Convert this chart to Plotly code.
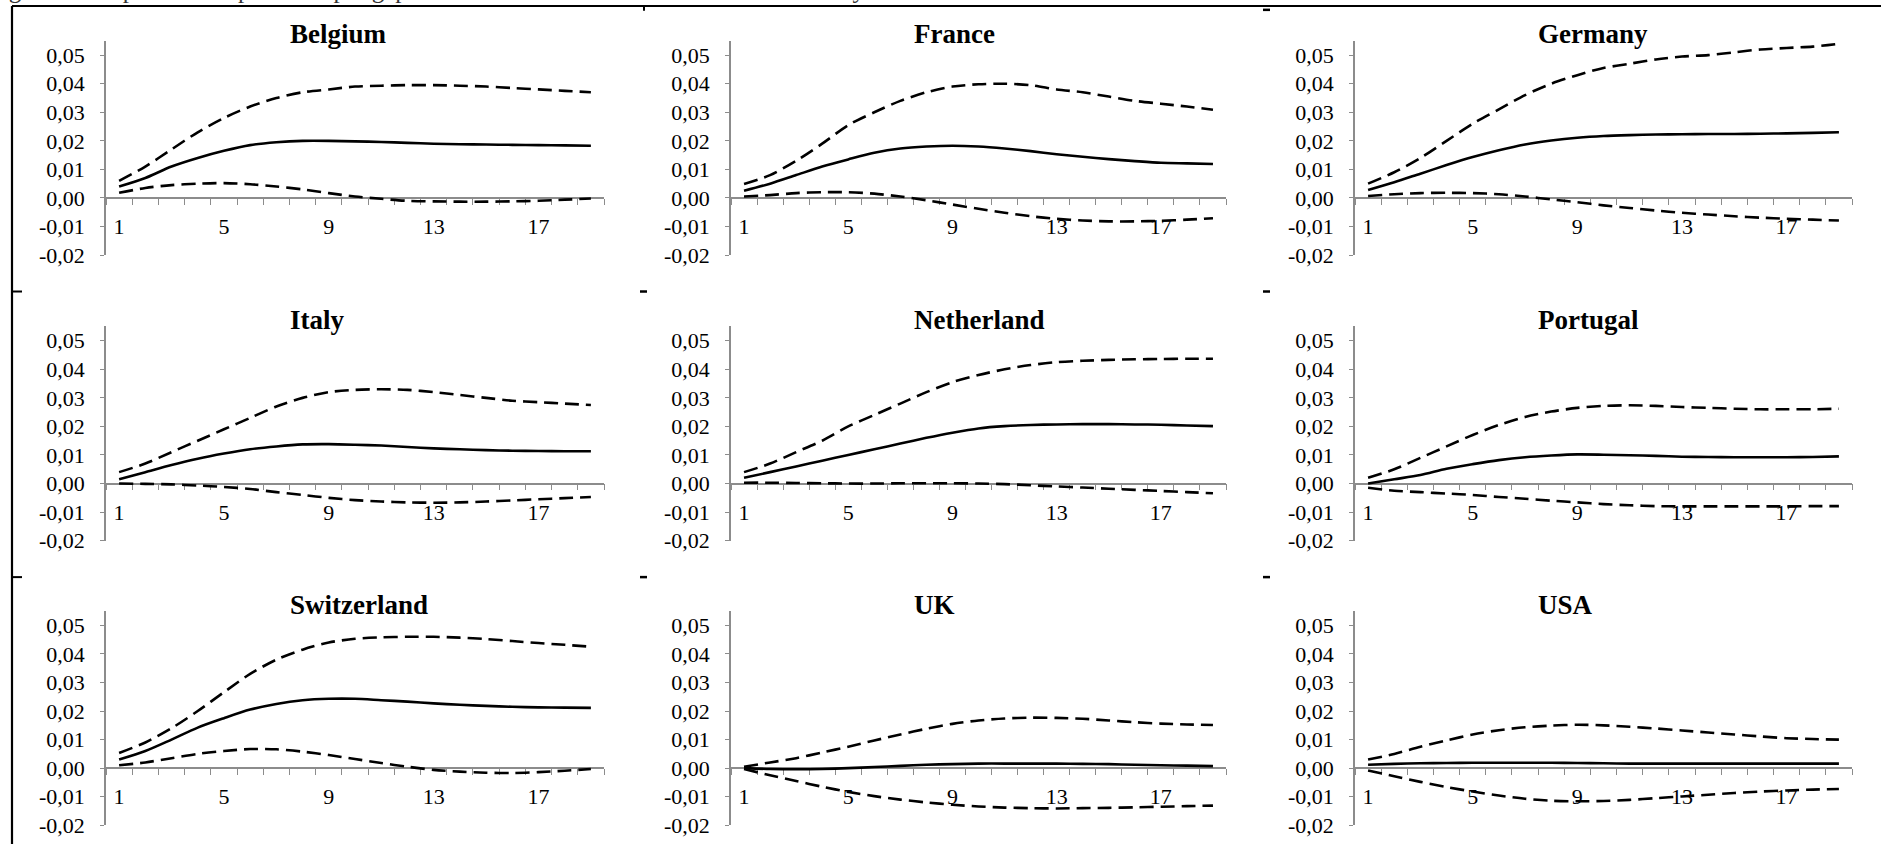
import plotly.graph_objects as go

# ---------------- data ----------------
periods = list(range(1, 20))
countries = ["Belgium", "France", "Germany", "Italy", "Netherland", "Portugal",
             "Switzerland", "UK", "USA"]

belgium_upper = [0.006, 0.011, 0.017, 0.023, 0.028, 0.032, 0.035, 0.037, 0.038, 0.039,
                 0.0393, 0.0395, 0.0395, 0.0393, 0.039, 0.0385, 0.038, 0.0375, 0.037]
belgium_mid = [0.004, 0.007, 0.011, 0.014, 0.0165, 0.0185, 0.0195, 0.020, 0.020, 0.0198,
               0.0196, 0.0193, 0.019, 0.0188, 0.0187, 0.0186, 0.0185, 0.0184, 0.0183]
belgium_lower = [0.0018, 0.0035, 0.0045, 0.005, 0.0052, 0.0048, 0.004, 0.003, 0.0017, 0.0005,
                 -0.0003, -0.001, -0.0012, -0.0013, -0.0013, -0.0012, -0.001, -0.0006, -0.0002]

france_upper = [0.0049, 0.008, 0.013, 0.019, 0.0255, 0.030, 0.034, 0.037, 0.039, 0.0398,
                0.040, 0.0395, 0.038, 0.037, 0.0355, 0.034, 0.033, 0.032, 0.0309]
france_mid = [0.0025, 0.005, 0.008, 0.011, 0.0135, 0.0158, 0.0173, 0.018, 0.0183, 0.018,
              0.0173, 0.0164, 0.0153, 0.0144, 0.0136, 0.0129, 0.0123, 0.0121, 0.0119]
france_lower = [0.0005, 0.001, 0.0017, 0.002, 0.002, 0.0015, 0.0005, -0.0008, -0.0023, -0.0038,
                -0.0052, -0.0064, -0.0073, -0.0079, -0.0082, -0.0082, -0.008, -0.0076, -0.0071]

germany_upper = [0.005, 0.009, 0.014, 0.020, 0.026, 0.031, 0.036, 0.040, 0.043, 0.0455,
                 0.047, 0.0485, 0.0495, 0.050, 0.051, 0.052, 0.0525, 0.053, 0.054]
germany_mid = [0.0028, 0.0055, 0.0085, 0.0115, 0.0143, 0.0167, 0.0187, 0.0201, 0.0211, 0.0217,
               0.022, 0.0222, 0.0223, 0.0224, 0.0224, 0.0225, 0.0226, 0.0228, 0.023]
germany_lower = [0.0007, 0.0013, 0.0017, 0.0018, 0.0017, 0.0013, 0.0005, -0.0005, -0.0015, -0.0026,
                 -0.0035, -0.0044, -0.0052, -0.0058, -0.0064, -0.0069, -0.0073, -0.0076, -0.0079]

italy_upper = [0.004, 0.007, 0.011, 0.015, 0.019, 0.023, 0.027, 0.030, 0.032, 0.0328,
               0.033, 0.0328, 0.032, 0.031, 0.030, 0.029, 0.0285, 0.028, 0.0275]
italy_mid = [0.0015, 0.004, 0.0065, 0.0087, 0.0105, 0.012, 0.013, 0.0137, 0.0138, 0.0136,
             0.0133, 0.0128, 0.0123, 0.012, 0.0117, 0.0115, 0.0114, 0.0113, 0.0113]
italy_lower = [0.0, -0.0001, -0.0003, -0.0007, -0.0012, -0.0019, -0.003, -0.004, -0.005, -0.0058,
               -0.0063, -0.0066, -0.0067, -0.0066, -0.0063, -0.0059, -0.0055, -0.0051, -0.0047]

netherland_upper = [0.004, 0.007, 0.011, 0.015, 0.020, 0.024, 0.028, 0.032, 0.0355, 0.038,
                    0.040, 0.0415, 0.0425, 0.043, 0.0433, 0.0435, 0.0436, 0.0437, 0.0437]
netherland_mid = [0.002, 0.004, 0.006, 0.008, 0.010, 0.012, 0.014, 0.016, 0.0178, 0.0193,
                  0.0201, 0.0205, 0.0207, 0.0208, 0.0208, 0.0207, 0.0206, 0.0203, 0.0201]
netherland_lower = [0.0003, 0.0003, 0.0002, 0.0001, 0.0, 0.0, 0.0001, 0.0001, 0.0001, 0.0,
                    -0.0002, -0.0006, -0.001, -0.0014, -0.0018, -0.0022, -0.0026, -0.003, -0.0034]

portugal_upper = [0.002, 0.005, 0.009, 0.013, 0.017, 0.0205, 0.0233, 0.0252, 0.0265, 0.0272,
                  0.0274, 0.0272, 0.0268, 0.0265, 0.0262, 0.026, 0.026, 0.026, 0.0262]
portugal_mid = [0.0, 0.0015, 0.003, 0.0052, 0.0068, 0.0082, 0.0092, 0.0098, 0.0102, 0.0101,
                0.0099, 0.0097, 0.0094, 0.0093, 0.0092, 0.0092, 0.0092, 0.0093, 0.0095]
portugal_lower = [-0.0015, -0.0025, -0.003, -0.0035, -0.004, -0.0047, -0.0053, -0.006, -0.0066, -0.0072,
                  -0.0076, -0.0079, -0.008, -0.008, -0.008, -0.008, -0.008, -0.0079, -0.0079]

switzerland_upper = [0.0053, 0.009, 0.014, 0.020, 0.0266, 0.033, 0.038, 0.0415, 0.044, 0.0453,
                     0.0458, 0.046, 0.046, 0.0457, 0.0452, 0.0445, 0.0438, 0.0432, 0.0425]
switzerland_mid = [0.003, 0.006, 0.010, 0.0142, 0.0175, 0.0205, 0.0225, 0.0238, 0.0243, 0.0243,
                   0.0238, 0.0233, 0.0227, 0.0222, 0.0218, 0.0215, 0.0213, 0.0212, 0.0211]
switzerland_lower = [0.001, 0.002, 0.0035, 0.005, 0.006, 0.0067, 0.0066, 0.0058, 0.0046, 0.0032,
                     0.0018, 0.0005, -0.0006, -0.0012, -0.0016, -0.0017, -0.0014, -0.0009, -0.0003]

uk_upper = [0.0005, 0.002, 0.0035, 0.0055, 0.0075, 0.0097, 0.0118, 0.0138, 0.0155, 0.0167,
            0.0174, 0.0177, 0.0176, 0.0173, 0.0167, 0.0161, 0.0156, 0.0153, 0.0151]
uk_mid = [0.0, -0.0003, -0.0004, -0.0003, 0.0, 0.0004, 0.0008, 0.0012, 0.0014, 0.0016,
          0.0016, 0.0016, 0.0016, 0.0015, 0.0014, 0.0012, 0.001, 0.0009, 0.0007]
uk_lower = [-0.0003, -0.0025, -0.0045, -0.0065, -0.0083, -0.0098, -0.011, -0.012, -0.0128, -0.0134,
            -0.0138, -0.014, -0.0141, -0.014, -0.0139, -0.0137, -0.0135, -0.0133, -0.0131]

usa_upper = [0.003, 0.005, 0.0075, 0.0097, 0.0118, 0.0133, 0.0143, 0.0149, 0.0152, 0.015,
             0.0145, 0.0139, 0.0132, 0.0125, 0.0118, 0.0111, 0.0105, 0.0102, 0.010]
usa_mid = [0.0012, 0.0015, 0.0017, 0.0018, 0.0019, 0.0019, 0.0019, 0.0019, 0.0018, 0.0017,
           0.0016, 0.0016, 0.0016, 0.0016, 0.0016, 0.0016, 0.0016, 0.0016, 0.0016]
usa_lower = [-0.0008, -0.0028, -0.0048, -0.0066, -0.0082, -0.0096, -0.0107, -0.0114, -0.0116, -0.0115,
             -0.0111, -0.0105, -0.0099, -0.0093, -0.0087, -0.0082, -0.0078, -0.0075, -0.0073]

uppers = [belgium_upper, france_upper, germany_upper, italy_upper, netherland_upper,
          portugal_upper, switzerland_upper, uk_upper, usa_upper]
mids = [belgium_mid, france_mid, germany_mid, italy_mid, netherland_mid,
        portugal_mid, switzerland_mid, uk_mid, usa_mid]
lowers = [belgium_lower, france_lower, germany_lower, italy_lower, netherland_lower,
          portugal_lower, switzerland_lower, uk_lower, usa_lower]

y_tick_vals = [-0.02, -0.01, 0.0, 0.01, 0.02, 0.03, 0.04, 0.05]
y_tick_text = ["-0,02", "-0,01", "0,00", "0,01", "0,02", "0,03", "0,04", "0,05"]
x_tick_vals = [1, 5, 9, 13, 17]
x_tick_text = ["1", "5", "9", "13", "17"]

caption = "Figure 4: Responses of Spain's output gap to one SD shock in real GDP of each country"

# ---------------- layout geometry (pixels) ----------------
W, H = 1881, 857
Y_MIN, Y_MAX = -0.02, 0.055
col_px = [(106, 604), (731, 1226), (1355, 1852)]
row_bottom_px = [259, 549, 838]
px_per_unit = 203 / 0.07
row_top_px = [b - (Y_MAX - Y_MIN) * px_per_unit for b in row_bottom_px]
title_x_px = [288, 912, 1536]
title_dy = 21  # title centre above the 0,05 line
stub_y_px = [296, 586]

FONT = "Liberation Serif"
AXIS_COL = "#8c8c8c"

fig = go.Figure()
layout = dict(
    width=W, height=H, margin=dict(l=0, r=0, t=0, b=0),
    paper_bgcolor="white", plot_bgcolor="white", showlegend=False,
    font=dict(family=FONT, color="black", size=22),
)
annotations = []

for i, name in enumerate(countries):
    r, c = divmod(i, 3)
    k = i + 1
    xa = "x" if k == 1 else f"x{k}"
    ya = "y" if k == 1 else f"y{k}"
    x0, x1 = col_px[c]
    yb, yt = row_bottom_px[r], row_top_px[r]
    xdom = [x0 / W, x1 / W]
    ydom = [1 - yb / H, 1 - yt / H]
    zero_pos = ydom[0] + (0 - Y_MIN) / (Y_MAX - Y_MIN) * (ydom[1] - ydom[0])

    for series, dash in ((lowers[i], "14px,7px"), (uppers[i], "14px,7px"), (mids[i], "solid")):
        fig.add_trace(go.Scatter(
            x=periods, y=series, mode="lines", xaxis=xa, yaxis=ya,
            line=dict(color="black", width=2.6, dash=dash, shape="spline", smoothing=0.8),
            hoverinfo="skip"))

    layout["xaxis" if k == 1 else f"xaxis{k}"] = dict(
        domain=xdom, range=[0.5, len(periods) + 0.5], anchor="free", position=zero_pos,
        showline=True, linecolor=AXIS_COL, linewidth=1.6, showgrid=False, zeroline=False,
        tickmode="array", tickvals=x_tick_vals, ticktext=x_tick_text,
        ticks="outside", ticklen=6, tickcolor="rgba(0,0,0,0)", ticklabelstandoff=3,
        tickfont=dict(family=FONT, size=22, color="black"),
        minor=dict(tickmode="array",
                   tickvals=[p - 0.5 for p in periods] + [periods[-1] + 0.5],
                   ticks="outside", ticklen=6, tickwidth=1.4, tickcolor=AXIS_COL, showgrid=False),
        fixedrange=True, layer="below traces",
    )
    layout["yaxis" if k == 1 else f"yaxis{k}"] = dict(
        domain=ydom, range=[Y_MIN, Y_MAX], anchor=xa,
        showline=True, linecolor=AXIS_COL, linewidth=1.6, showgrid=False, zeroline=False,
        tickmode="array", tickvals=y_tick_vals, ticktext=y_tick_text,
        ticks="outside", ticklen=4, tickwidth=1.4, tickcolor=AXIS_COL, ticklabelstandoff=11,
        tickfont=dict(family=FONT, size=22, color="black"),
        fixedrange=True,
    )
    y05_px = yb - (0.05 - Y_MIN) * px_per_unit
    annotations.append(dict(
        text=f"<b>{name}</b>", xref="paper", yref="paper",
        x=title_x_px[c] / W, y=1 - (y05_px - title_dy) / H,
        xanchor="left", yanchor="middle", showarrow=False,
        font=dict(family=FONT, size=27, color="black")))

# partially visible caption above the table (cut by the page edge, as in the source)
annotations.append(dict(
    text=caption, xref="paper", yref="paper", x=-14 / W, y=1 - 5 / H,
    xanchor="left", yanchor="bottom", showarrow=False,
    font=dict(family=FONT, size=25, color="#333")))

# table borders of the document
def line(x0, y0, x1, y1, w=2):
    return dict(type="line", xref="paper", yref="paper",
                x0=x0 / W, x1=x1 / W, y0=1 - y0 / H, y1=1 - y1 / H,
                line=dict(color="black", width=w))

shapes = [
    line(12, 6, W, 6, 2),
    line(12, 6, 12, H, 2.2),
    line(644, 6, 644, 11, 2),
    line(1263, 10, 1270, 10, 2.5),
]
for sy in stub_y_px:
    shapes += [line(12, sy, 22, sy, 2),
               line(640, sy, 647, sy, 2.5),
               line(1263, sy, 1270, sy, 2.5)]

layout["annotations"] = annotations
layout["shapes"] = shapes
fig.update_layout(**layout)
fig.write_html("out.html",
               config={"displayModeBar": False},
               post_script="document.body.style.margin='0';document.body.style.overflow='hidden';")
